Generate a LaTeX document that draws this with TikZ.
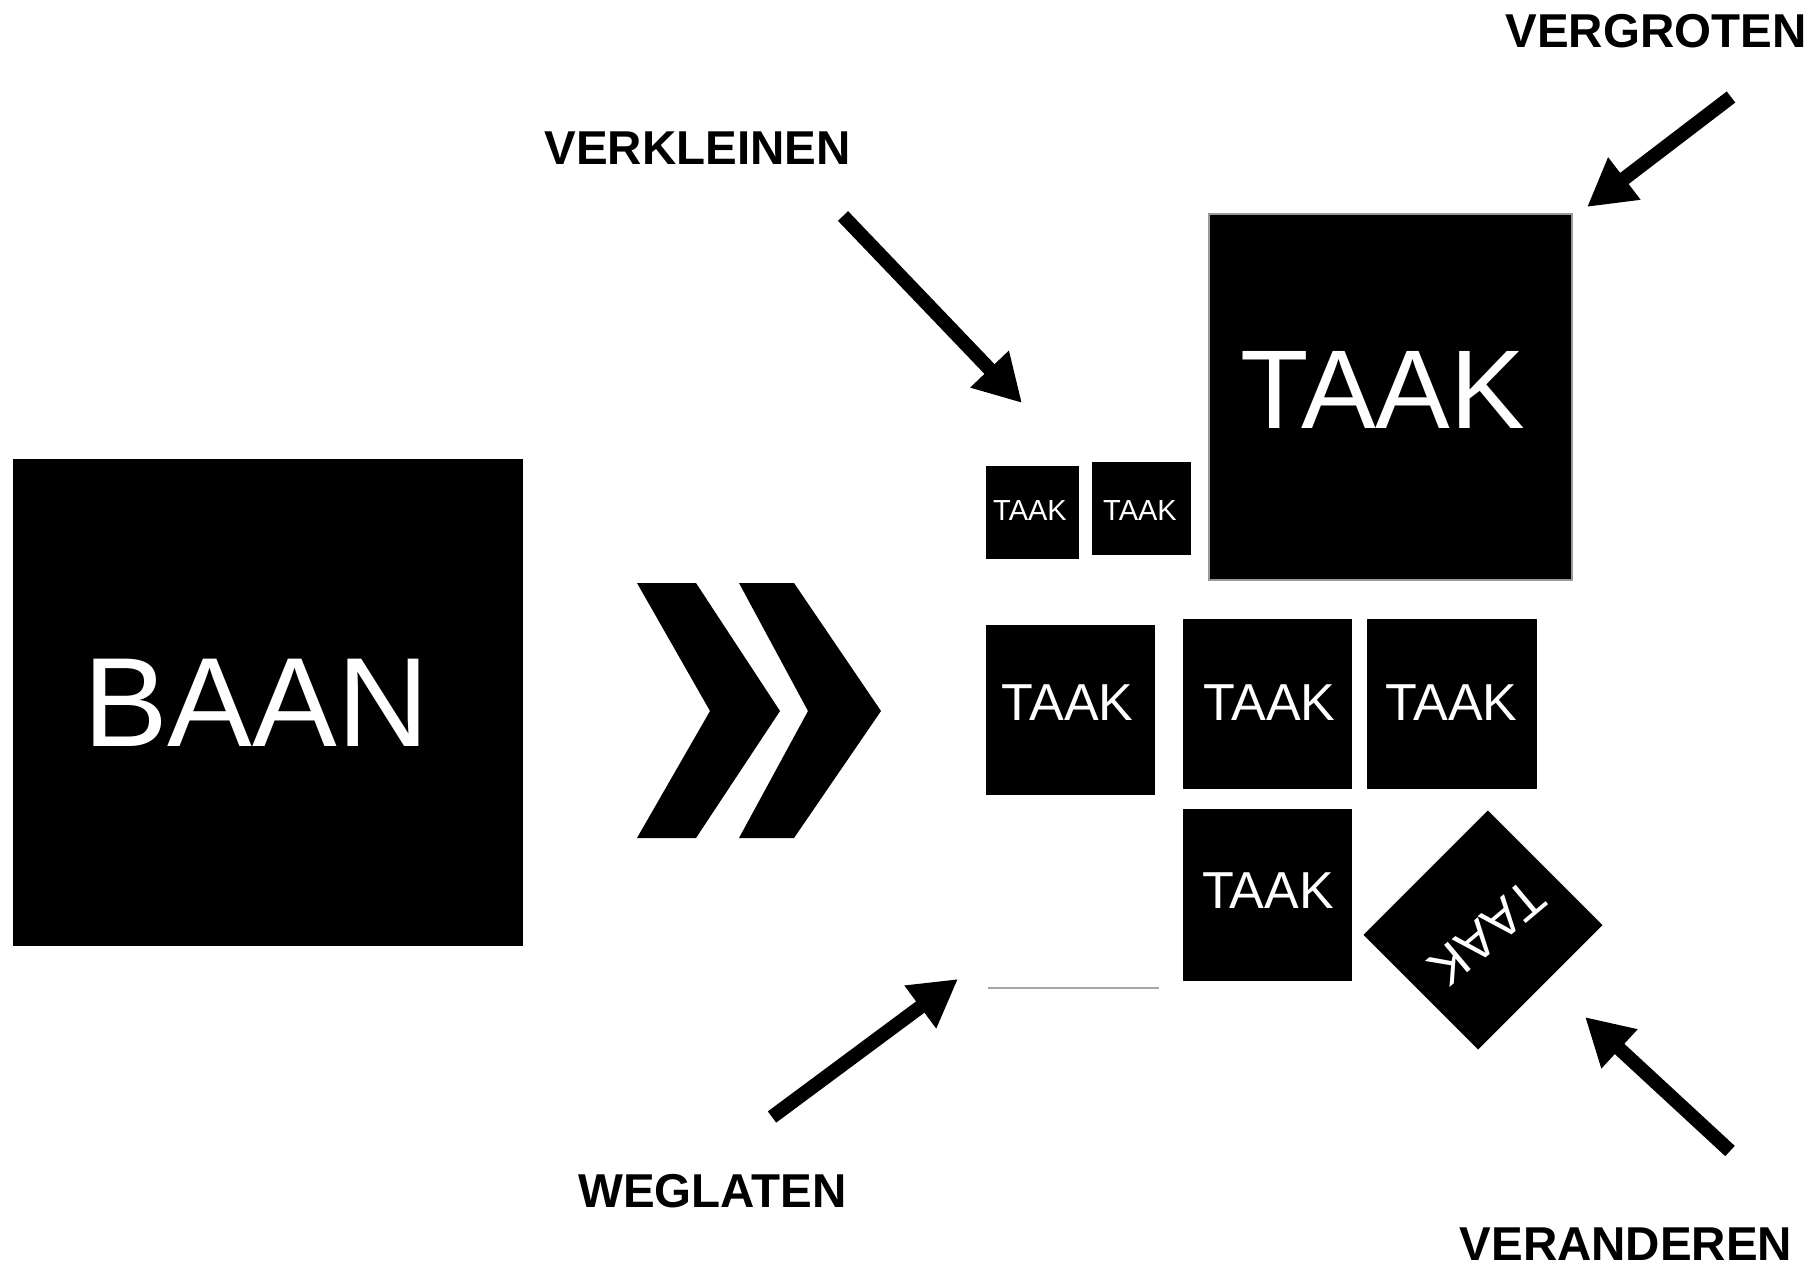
\documentclass[tikz,border=0pt]{standalone}
\usepackage{fontspec}
\setmainfont{Liberation Sans}
\usetikzlibrary{arrows.meta}
\tikzset{
  blk/.style={fill=black, draw=none, inner sep=0pt, outer sep=0pt},
  lbl/.style={font=\fontsize{47.5}{57}\selectfont\bfseries, inner sep=0pt, text=black},
  tk/.style={text=white, inner sep=0pt, font=\fontsize{#1}{#1}\selectfont},
  bigarrow/.style={line width=14pt, -{Triangle[length=47pt,width=50pt]}},
  chev/.style={fill=black, draw=none},
}
\begin{document}
\begin{tikzpicture}[x=1pt,y=-1pt]
\useasboundingbox (0,0) rectangle (1819,1267);
\fill[white] (0,0) rectangle (1819,1267);

% BAAN
\node[blk, minimum width=510pt, minimum height=487pt] (baan) at (268,702.5) {};
\node[tk=127] (baantxt) at (256,702.5) {BAAN};

% chevrons
\fill[chev] (637,583) -- (696,583) -- (780,711) -- (696,838) -- (637,838) -- (710,711) -- cycle;
\fill[chev] (739,583) -- (794,583) -- (881,711) -- (794,838) -- (739,838) -- (808,711) -- cycle;

% big task (vergroten)
\node[blk, draw=black!40, line width=2.5pt, minimum width=363pt, minimum height=366pt] (big) at (1390.5,397) {};
\node[tk=112] (bigtxt) at (1383,390) {TAAK};

% small tasks (verkleinen)
\node[blk, minimum width=93pt, minimum height=93pt] (s1) at (1032.5,512.5) {};
\node[tk=29] (s1txt) at (1030,510.5) {TAAK};
\node[blk, minimum width=99pt, minimum height=93pt] (s2) at (1141.5,508.5) {};
\node[tk=29] (s2txt) at (1140,510.5) {TAAK};

% middle row
\node[blk, minimum width=169pt, minimum height=170pt] (a) at (1070.5,710) {};
\node[tk=52] (atxt) at (1067.5,702.5) {TAAK};
\node[blk, minimum width=169pt, minimum height=170pt] (b) at (1267.5,704) {};
\node[tk=52] (btxt) at (1269.5,703) {TAAK};
\node[blk, minimum width=170pt, minimum height=170pt] (c) at (1452,704) {};
\node[tk=52] (ctxt) at (1451.5,703) {TAAK};

% bottom
\node[blk, minimum width=169pt, minimum height=172pt] (d) at (1267.5,895) {};
\node[tk=52] (dtxt) at (1268,890.5) {TAAK};

% rotated (veranderen)
\node[blk, rotate=-135, minimum width=176pt, minimum height=162pt] (rot) at (1483,930) {};
\node[tk=52, rotate=-140] (rottxt) at (1487,933) {TAAK};

% omitted (weglaten)
\coordinate (omitL) at (988,988);
\coordinate (omitR) at (1159,988);
\draw[black!35, line width=1.5pt] (omitL) -- (omitR);

% labels
\node[lbl] (verkleinen) at (697.5,148.5) {VERKLEINEN};
\node[lbl] (vergroten) at (1656,31.5) {VERGROTEN};
\node[lbl] (weglaten) at (712.5,1191) {WEGLATEN};
\node[lbl] (veranderen) at (1626,1244.5) {VERANDEREN};

% arrow ends
\coordinate (kS) at (843,216);
\coordinate (kE) at (1022,403);
\coordinate (gS) at (1731,97);
\coordinate (gE) at (1587,207);
\coordinate (wS) at (772,1117);
\coordinate (wE) at (958,979);
\coordinate (vS) at (1730,1151);
\coordinate (vE) at (1585,1017);

\draw[bigarrow] (kS) -- (kE);
\draw[bigarrow] (gS) -- (gE);
\draw[bigarrow] (wS) -- (wE);
\draw[bigarrow] (vS) -- (vE);
\end{tikzpicture}
\end{document}
